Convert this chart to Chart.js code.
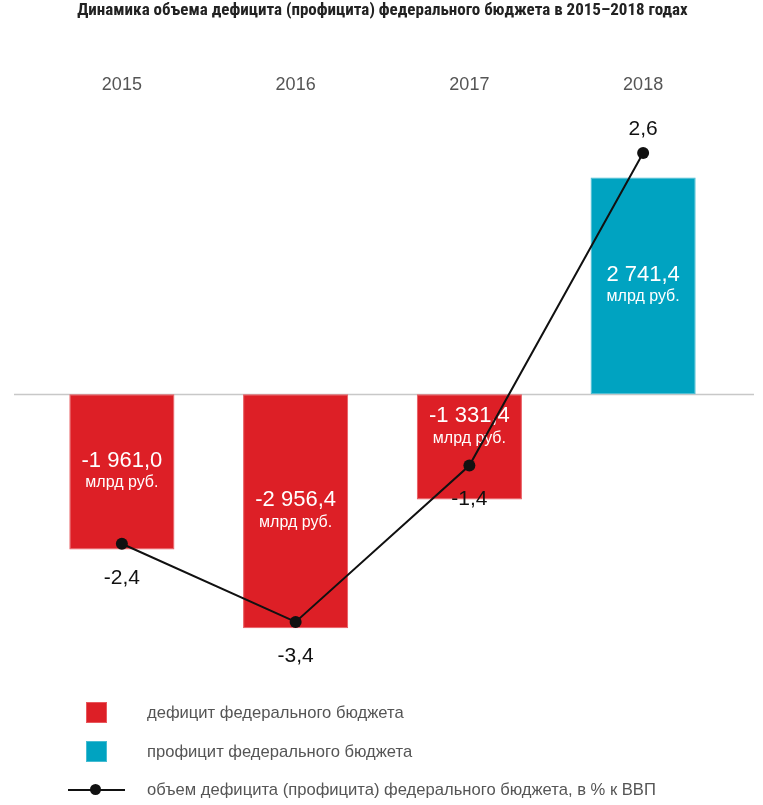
<!DOCTYPE html>
<html>
<head>
<meta charset="utf-8">
<script src="https://cdn.jsdelivr.net/npm/chart.js@4"></script>
<style>
  html, body { margin: 0; padding: 0; background: #fff; }
  #wrap { position: relative; width: 763px; height: 805px; }
  #legend { position: absolute; left: 0; top: 0; width: 763px; height: 805px; pointer-events: none;
    font-family: "Liberation Sans", Arial, sans-serif; font-size: 16.6px; color: #555; }
  .row { position: absolute; left: 0; height: 22px; width: 763px; }
  .box { position: absolute; left: 86px; top: 0; width: 19px; height: 19px; border: 1px solid; }
  .txt { position: absolute; left: 147px; top: 1px; line-height: 20px; white-space: nowrap; }
  .ln { position: absolute; left: 68px; top: 10px; width: 57px; height: 2px; background: #111; }
  .dot { position: absolute; left: 90px; top: 5px; width: 11px; height: 11px; border-radius: 50%; background: #111; }
</style>
</head>
<body>
<div id="wrap">
  <canvas id="chart" width="763" height="805"></canvas>
  <div id="legend"></div>
</div>
<script>
const years = ["2015", "2016", "2017", "2018"];
const balance = [-1961.0, -2956.4, -1331.4, 2741.4];   // млрд руб.
const balanceGdp = [-2.4, -3.4, -1.4, 2.6];            // % к ВВП
const unitLabel = "млрд руб.";
const titleText = "Динамика объема дефицита (профицита) федерального бюджета в 2015–2018 годах";
const legendLabels = [
  "дефицит федерального бюджета",
  "профицит федерального бюджета",
  "объем дефицита (профицита) федерального бюджета, в % к ВВП"
];

const RED = "#DD1F26";
const TEAL = "#00A3C1";

// -1 961,0 style
function fmt(v) {
  const s = Math.abs(v).toFixed(1).split(".");
  const int = s[0].replace(/\B(?=(\d{3})+(?!\d))/g, " ");
  return (v < 0 ? "-" : "") + int + "," + s[1];
}

// gray base line at zero, a bit wider than the plot
const zeroLine = {
  id: "zeroLine",
  beforeDatasetsDraw(chart) {
    const y = Math.round(chart.scales.y.getPixelForValue(0)) + 0.5;
    const ctx = chart.ctx;
    ctx.save();
    ctx.strokeStyle = "#c8c8c8";
    ctx.lineWidth = 1.5;
    ctx.beginPath();
    ctx.moveTo(chart.chartArea.left - 21, y);
    ctx.lineTo(chart.chartArea.right + 24, y);
    ctx.stroke();
    ctx.restore();
  }
};

// labels inside bars (drawn before the line so the line crosses them)
const barLabels = {
  id: "barLabels",
  afterDatasetDraw(chart, args) {
    if (args.meta.type !== "bar") return;
    const ctx = chart.ctx;
    ctx.save();
    ctx.fillStyle = "#fff";
    ctx.textAlign = "center";
    ctx.textBaseline = "middle";
    args.meta.data.forEach((bar, i) => {
      const top = Math.min(bar.y, bar.base);
      const h = Math.abs(bar.base - bar.y);
      let cy = top + h / 2;
      if (h < 130) cy = top + 33;
      ctx.font = "22px 'Liberation Sans', Arial, sans-serif";
      ctx.fillText(fmt(balance[i]), bar.x, cy - 11);
      ctx.font = "16px 'Liberation Sans', Arial, sans-serif";
      ctx.fillText(unitLabel, bar.x, cy + 11);
    });
    ctx.restore();
  }
};

// % of GDP labels next to the points
const pointLabels = {
  id: "pointLabels",
  afterDatasetsDraw(chart) {
    const meta = chart.getDatasetMeta(0);
    const ctx = chart.ctx;
    ctx.save();
    ctx.fillStyle = "#111";
    ctx.textAlign = "center";
    ctx.textBaseline = "middle";
    ctx.font = "21px 'Liberation Sans', Arial, sans-serif";
    meta.data.forEach((pt, i) => {
      const v = balanceGdp[i];
      const y = v < 0 ? pt.y + 34 : pt.y - 24;
      ctx.fillText(String(v).replace(".", ","), pt.x, y);
    });
    ctx.restore();
  }
};

new Chart(document.getElementById("chart"), {
  data: {
    labels: years,
    datasets: [
      {
        type: "line",
        label: legendLabels[2],
        data: balanceGdp,
        yAxisID: "y2",
        order: 0,
        borderColor: "#111",
        borderWidth: 2,
        tension: 0,
        pointRadius: 6,
        pointBackgroundColor: "#111",
        pointBorderWidth: 0
      },
      {
        type: "bar",
        label: legendLabels[0],
        data: balance,
        yAxisID: "y",
        order: 1,
        backgroundColor: balance.map(v => (v < 0 ? RED : TEAL)),
        borderColor: balance.map(v => (v < 0 ? "#E8585D" : "#45BCD2")),
        borderWidth: 1,
        borderSkipped: false,
        categoryPercentage: 1,
        barPercentage: 0.605
      }
    ]
  },
  options: {
    responsive: false,
    animation: false,
    layout: { padding: { left: 35, right: 33, top: 0, bottom: 145 } },
    plugins: {
      legend: { display: false },
      tooltip: { enabled: false },
      title: {
        display: true,
        text: titleText,
        color: "#222",
        font: { family: "'Liberation Sans Narrow', 'Roboto Condensed', 'Liberation Sans', sans-serif", size: 17, weight: "bold" },
        padding: { top: 1, bottom: 45.7 }
      }
    },
    scales: {
      x: {
        position: "top",
        grid: { display: false, drawTicks: false },
        border: { display: false },
        ticks: { color: "#555", font: { family: "'Liberation Sans', Arial, sans-serif", size: 18 }, padding: 7 }
      },
      y: { display: false, min: -3359, max: 3686 },
      y2: { display: false, min: -3.887, max: 3.243 }
    }
  },
  plugins: [zeroLine, barLabels, pointLabels]
});

// legend below the plot
const legend = document.getElementById("legend");
const rowTops = [702, 741, 779];
legendLabels.forEach((text, i) => {
  const row = document.createElement("div");
  row.className = "row";
  row.style.top = rowTops[i] + "px";
  if (i < 2) {
    const c = i === 0 ? RED : TEAL;
    row.innerHTML = '<div class="box" style="background:' + c + ';border-color:' + (i === 0 ? "#E8585D" : "#45BCD2") + '"></div>';
  } else {
    row.innerHTML = '<div class="ln"></div><div class="dot"></div>';
  }
  const t = document.createElement("div");
  t.className = "txt";
  t.textContent = text;
  row.appendChild(t);
  legend.appendChild(row);
});
</script>
</body>
</html>
